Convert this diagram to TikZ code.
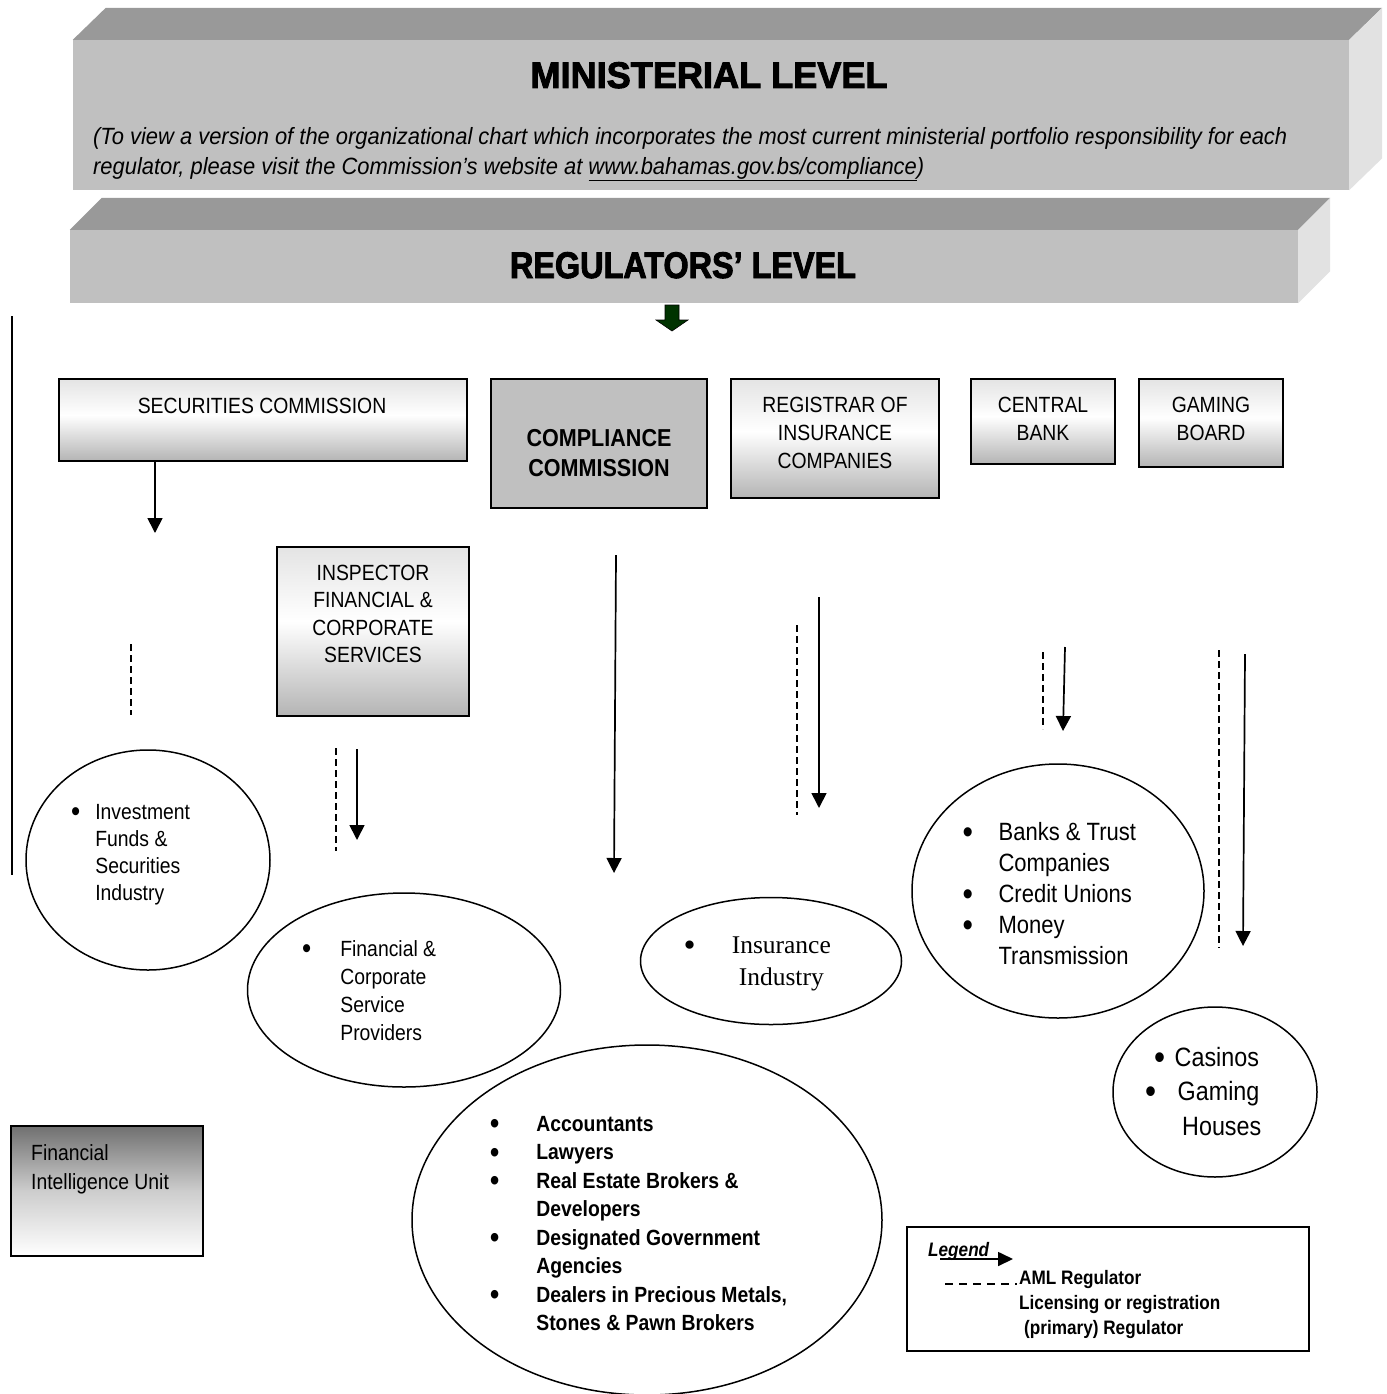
\documentclass[tikz,border=0pt]{standalone}
\usepackage{graphicx}
\usepackage{fontspec}
\setmainfont{Liberation Sans}[FakeStretch=0.88]
\newfontfamily\insfont{Liberation Serif}
\newfontfamily\heavyfont{Liberation Sans Bold}[FakeBold=2.6]
\usetikzlibrary{shapes.geometric,arrows.meta,calc}
\definecolor{topface}{HTML}{999999}
\definecolor{frontface}{HTML}{C0C0C0}
\definecolor{sideface}{HTML}{E2E2E2}
\definecolor{compgray}{HTML}{C0C0C0}
\definecolor{bgbot}{HTML}{B4B4B4}
\definecolor{bgtop}{HTML}{E4E4E4}
\definecolor{fiutop}{HTML}{707070}
\definecolor{fiumid}{HTML}{CDCDCD}
\definecolor{darkgreen}{HTML}{003300}
\newcommand\bigbul{\smash{\raisebox{-0.13em}{\scalebox{1.35}{\textbullet}}}}
\pgfdeclareverticalshading{boxgrad}{100bp}{color(0bp)=(bgbot); color(25bp)=(bgbot); color(53bp)=(white); color(75bp)=(bgtop); color(100bp)=(bgtop)}
\pgfdeclareverticalshading{fiugrad}{100bp}{color(0bp)=(white); color(25bp)=(white); color(50bp)=(fiumid); color(75bp)=(fiutop); color(100bp)=(fiutop)}
\begin{document}
\begin{tikzpicture}[x=1pt,y=-1pt,
  gbox/.style={draw=black,line width=2pt,shading=boxgrad,inner sep=0pt},
  cbox/.style={draw=black,line width=2pt,fill=compgray,inner sep=0pt},
  fiubox/.style={draw=black,line width=2pt,shading=fiugrad,inner sep=0pt},
  legbox/.style={draw=black,line width=1.6pt,fill=white,inner sep=0pt},
  oval/.style={draw=black,line width=1.5pt,ellipse,inner sep=0pt},
  front/.style={fill=frontface,inner sep=0pt},
  arr/.style={line width=1.7pt,-{Triangle[length=15pt,width=15pt]}},
  dsh/.style={line width=1.6pt,dash pattern=on 7pt off 4pt},
  lbl/.style={inner sep=0pt,font=\fontsize{22}{27.5}\selectfont},
]
\useasboundingbox (0,0) rectangle (1386,1394);
\fill[white] (0,0) rectangle (1386,1394);

% ---------- Ministerial banner
\node[front,minimum width=1276pt,minimum height=150pt] (min) at (711,115) {};
\fill[topface] (min.north west) -- ++(33,-32) -- ($(min.north east)+(33,-32)$) -- (min.north east) -- cycle;
\fill[sideface] (min.north east) -- ++(33,-32) -- ($(min.south east)+(33,-32)$) -- (min.south east) -- cycle;
\node[inner sep=0pt,anchor=base,font=\heavyfont\fontsize{37}{40}\selectfont] (minH) at (709,88) {\resizebox{357pt}{\height}{MINISTERIAL LEVEL}};
\node[inner sep=0pt,anchor=base west,font=\fontsize{23.5}{30}\selectfont\itshape] (minN) at (93,144) {\resizebox{1194pt}{\height}{\begin{tabular}[t]{@{}l@{}}(To view a version of the organizational chart which incorporates the most current ministerial portfolio responsibility for each\\regulator, please visit the Commission’s website at \underline{www.bahamas.gov.bs/compliance})\end{tabular}}};

% ---------- Regulators banner
\node[front,minimum width=1228pt,minimum height=73pt] (reg) at (684,266.5) {};
\fill[topface] (reg.north west) -- ++(32,-32) -- ($(reg.north east)+(32,-32)$) -- (reg.north east) -- cycle;
\fill[sideface] (reg.north east) -- ++(32,-32) -- ($(reg.south east)+(32,-32)$) -- (reg.south east) -- cycle;
\node[inner sep=0pt,anchor=base,font=\heavyfont\fontsize{37}{40}\selectfont] (regH) at (683,278) {\resizebox{346pt}{\height}{REGULATORS’ LEVEL}};
\fill[darkgreen,draw=black,line width=0.6pt] (665,305) -- (679,305) -- (679,320) -- (688,320) -- (672,331) -- (656,320) -- (665,320) -- cycle;

% ---------- left line
\coordinate (lineT) at (12,316);
\coordinate (lineB) at (12,875);
\draw[line width=2pt] (lineT) -- (lineB);

% ---------- regulator boxes
\node[gbox,minimum width=408pt,minimum height=82pt] (sec) at (263,420) {};
\node[lbl,anchor=base] (secT) at (262,413) {SECURITIES COMMISSION};

\node[gbox,minimum width=192pt,minimum height=169pt] (insp) at (373,631.5) {};
\node[lbl,anchor=base] (inspT) at (373,580) {\begin{tabular}[t]{@{}c@{}}INSPECTOR\\FINANCIAL \&\\CORPORATE\\SERVICES\end{tabular}};

\node[cbox,minimum width=216pt,minimum height=129pt] (comp) at (599,443.5) {};
\node[inner sep=0pt,anchor=base,font=\fontsize{24.5}{30}\selectfont\bfseries] (compT) at (599,446) {\begin{tabular}[t]{@{}c@{}}COMPLIANCE\\COMMISSION\end{tabular}};

\node[gbox,minimum width=208pt,minimum height=119pt] (regi) at (835,438.5) {};
\node[lbl,anchor=base,font=\fontsize{22}{28}\selectfont] (regiT) at (835,412) {\begin{tabular}[t]{@{}c@{}}REGISTRAR OF\\INSURANCE\\COMPANIES\end{tabular}};

\node[gbox,minimum width=144pt,minimum height=85pt] (cb) at (1043,421.5) {};
\node[lbl,anchor=base,font=\fontsize{22}{28}\selectfont] (cbT) at (1043,412) {\begin{tabular}[t]{@{}c@{}}CENTRAL\\BANK\end{tabular}};

\node[gbox,minimum width=144pt,minimum height=88pt] (gb) at (1211,423) {};
\node[lbl,anchor=base,font=\fontsize{22}{28}\selectfont] (gbT) at (1211,412) {\begin{tabular}[t]{@{}c@{}}GAMING\\BOARD\end{tabular}};

% ---------- ellipses
\node[oval,minimum width=244pt,minimum height=220pt] (inv) at (148,860) {};
\node[inner sep=0pt,anchor=base west,font=\fontsize{22}{27.3}\selectfont] (invT) at (71,819) {\begin{tabular}[t]{@{}l@{\hspace{15pt}}l@{}}\bigbul & Investment\\ & Funds \&\\ & Securities\\ & Industry\end{tabular}};

\node[oval,minimum width=313pt,minimum height=194pt] (fin) at (404,990) {};
\node[inner sep=0pt,anchor=base west,font=\fontsize{22}{28}\selectfont] (finT) at (302,956) {\begin{tabular}[t]{@{}l@{\hspace{29pt}}l@{}}\bigbul & Financial \&\\ & Corporate\\ & Service\\ & Providers\end{tabular}};

\node[oval,minimum width=261pt,minimum height=127pt] (ins) at (771,961) {};
\node[inner sep=0pt,anchor=base west,font=\insfont\fontsize{25.5}{32}\selectfont] (insT) at (683.5,953.5) {\begin{tabular}[t]{@{}l@{\hspace{36pt}}c@{}}\bigbul & Insurance\\ & Industry\end{tabular}};

\node[oval,minimum width=292pt,minimum height=254pt] (bank) at (1058,891) {};
\node[inner sep=0pt,anchor=base west,font=\fontsize{25}{31}\selectfont] (bankT) at (962.5,840) {\begin{tabular}[t]{@{}l@{\hspace{25.5pt}}l@{}}\bigbul & Banks \& Trust\\ & Companies\\ \bigbul & Credit Unions\\ \bigbul & Money\\ & Transmission\end{tabular}};

\node[oval,minimum width=204pt,minimum height=170pt] (cas) at (1215,1092) {};
\node[inner sep=0pt,anchor=base west,font=\fontsize{26.5}{34.5}\selectfont] (casT) at (1145,1066) {\begin{tabular}[t]{@{}l@{}}\hspace{9pt}\bigbul\hspace{9.5pt}Casinos\\ \bigbul\hspace{21.5pt}Gaming\\ \hspace{37pt}Houses\end{tabular}};

\node[oval,minimum width=470pt,minimum height=350pt] (dnf) at (647,1220) {};
\node[inner sep=0pt,anchor=base west,font=\fontsize{22}{28.5}\selectfont\bfseries] (dnfT) at (490,1131) {\begin{tabular}[t]{@{}l@{\hspace{37pt}}l@{}}\bigbul & Accountants\\ \bigbul & Lawyers\\ \bigbul & Real Estate Brokers \&\\ & Developers\\ \bigbul & Designated Government\\ & Agencies\\ \bigbul & Dealers in Precious Metals,\\ & Stones \& Pawn Brokers\end{tabular}};

% ---------- FIU
\node[fiubox,minimum width=192pt,minimum height=130pt] (fiu) at (107,1191) {};
\node[inner sep=0pt,anchor=base west,font=\fontsize{22}{29}\selectfont] (fiuT) at (31,1160) {\begin{tabular}[t]{@{}l@{}}Financial\\Intelligence Unit\end{tabular}};

% ---------- arrows
\coordinate (secE) at (155,533);
\draw[arr] (sec.south -| secE) -- (secE);
\coordinate (secD1) at (131,644); \coordinate (secD2) at (131,715);
\draw[dsh] (secD1) -- (secD2);

\coordinate (inD1) at (336,748); \coordinate (inD2) at (336,851);
\coordinate (inA1) at (357,749); \coordinate (inA2) at (357,840);
\draw[dsh] (inD1) -- (inD2);
\draw[arr] (inA1) -- (inA2);

\coordinate (coA1) at (616,555); \coordinate (coA2) at (614,873);
\draw[arr] (coA1) -- (coA2);

\coordinate (reA1) at (819,597); \coordinate (reA2) at (819,808);
\coordinate (reD1) at (797,625); \coordinate (reD2) at (797,815);
\draw[arr] (reA1) -- (reA2);
\draw[dsh] (reD1) -- (reD2);

\coordinate (cbA1) at (1065,647); \coordinate (cbA2) at (1063,731);
\coordinate (cbD1) at (1043,652); \coordinate (cbD2) at (1043,729);
\draw[arr] (cbA1) -- (cbA2);
\draw[dsh] (cbD1) -- (cbD2);

\coordinate (gbA1) at (1245,654); \coordinate (gbA2) at (1243,946);
\coordinate (gbD1) at (1219,650); \coordinate (gbD2) at (1219,948);
\draw[arr] (gbA1) -- (gbA2);
\draw[dsh] (gbD1) -- (gbD2);

% ---------- legend
\node[legbox,minimum width=402pt,minimum height=124pt] (leg) at (1108,1289) {};
\node[inner sep=0pt,anchor=base west,font=\fontsize{19.5}{24}\selectfont\bfseries\itshape] (legT) at (928,1256) {Legend};
\coordinate (lgA1) at (940,1259); \coordinate (lgA2) at (1013,1259);
\draw[line width=1.7pt,-{Triangle[length=15pt,width=14pt]}] (lgA1) -- (lgA2);
\coordinate (lgD1) at (945,1284); \coordinate (lgD2) at (1017,1284);
\draw[line width=1.5pt,dash pattern=on 8pt off 6pt] (lgD1) -- (lgD2);
\node[inner sep=0pt,anchor=base west,font=\fontsize{19.5}{25}\selectfont\bfseries] (legL) at (1019,1284) {\begin{tabular}[t]{@{}l@{}}AML Regulator\\Licensing or registration\\\hspace{5pt}(primary) Regulator\end{tabular}};
\end{tikzpicture}
\end{document}
